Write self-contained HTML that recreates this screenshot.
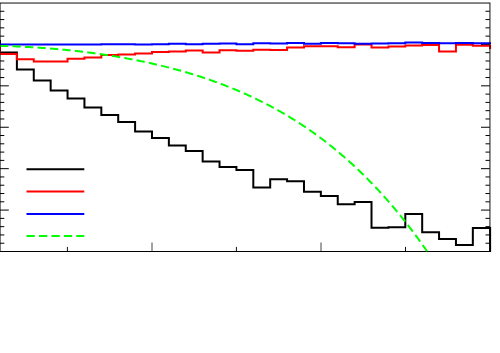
<!DOCTYPE html>
<html><head><meta charset="utf-8"><title>chart</title>
<style>
html,body{margin:0;padding:0;background:#fff;font-family:"Liberation Sans",sans-serif;}
svg{display:block}
</style></head><body>
<svg width="500" height="353" viewBox="0 0 500 353">
<rect width="500" height="353" fill="#fff"/>
<g stroke="#8a8a8a" stroke-width="1.6"><line x1="152" x2="152" y1="251.5" y2="242.5"/><line x1="321" x2="321" y1="251.5" y2="242.5"/></g>
<g stroke="#111" stroke-width="1"><line x1="67.4" x2="67.4" y1="251.5" y2="246.9"/><line x1="236.4" x2="236.4" y1="251.5" y2="246.9"/><line x1="405.5" x2="405.5" y1="251.5" y2="246.9"/></g>
<g stroke="#000" stroke-width="1"><line x1="0" x2="4.3" y1="243.22" y2="243.22"/><line x1="489.8" x2="485.5" y1="243.22" y2="243.22"/><line x1="0" x2="4.3" y1="234.93" y2="234.93"/><line x1="489.8" x2="485.5" y1="234.93" y2="234.93"/><line x1="0" x2="4.3" y1="226.65" y2="226.65"/><line x1="489.8" x2="485.5" y1="226.65" y2="226.65"/><line x1="0" x2="4.3" y1="218.37" y2="218.37"/><line x1="489.8" x2="485.5" y1="218.37" y2="218.37"/><line x1="0" x2="8.8" y1="210.08" y2="210.08"/><line x1="489.8" x2="481.0" y1="210.08" y2="210.08"/><line x1="0" x2="4.3" y1="201.80" y2="201.80"/><line x1="489.8" x2="485.5" y1="201.80" y2="201.80"/><line x1="0" x2="4.3" y1="193.52" y2="193.52"/><line x1="489.8" x2="485.5" y1="193.52" y2="193.52"/><line x1="0" x2="4.3" y1="185.23" y2="185.23"/><line x1="489.8" x2="485.5" y1="185.23" y2="185.23"/><line x1="0" x2="4.3" y1="176.95" y2="176.95"/><line x1="489.8" x2="485.5" y1="176.95" y2="176.95"/><line x1="0" x2="8.8" y1="168.67" y2="168.67"/><line x1="489.8" x2="481.0" y1="168.67" y2="168.67"/><line x1="0" x2="4.3" y1="160.38" y2="160.38"/><line x1="489.8" x2="485.5" y1="160.38" y2="160.38"/><line x1="0" x2="4.3" y1="152.10" y2="152.10"/><line x1="489.8" x2="485.5" y1="152.10" y2="152.10"/><line x1="0" x2="4.3" y1="143.82" y2="143.82"/><line x1="489.8" x2="485.5" y1="143.82" y2="143.82"/><line x1="0" x2="4.3" y1="135.53" y2="135.53"/><line x1="489.8" x2="485.5" y1="135.53" y2="135.53"/><line x1="0" x2="8.8" y1="127.25" y2="127.25"/><line x1="489.8" x2="481.0" y1="127.25" y2="127.25"/><line x1="0" x2="4.3" y1="118.97" y2="118.97"/><line x1="489.8" x2="485.5" y1="118.97" y2="118.97"/><line x1="0" x2="4.3" y1="110.68" y2="110.68"/><line x1="489.8" x2="485.5" y1="110.68" y2="110.68"/><line x1="0" x2="4.3" y1="102.40" y2="102.40"/><line x1="489.8" x2="485.5" y1="102.40" y2="102.40"/><line x1="0" x2="4.3" y1="94.12" y2="94.12"/><line x1="489.8" x2="485.5" y1="94.12" y2="94.12"/><line x1="0" x2="8.8" y1="85.83" y2="85.83"/><line x1="489.8" x2="481.0" y1="85.83" y2="85.83"/><line x1="0" x2="4.3" y1="77.55" y2="77.55"/><line x1="489.8" x2="485.5" y1="77.55" y2="77.55"/><line x1="0" x2="4.3" y1="69.27" y2="69.27"/><line x1="489.8" x2="485.5" y1="69.27" y2="69.27"/><line x1="0" x2="4.3" y1="60.98" y2="60.98"/><line x1="489.8" x2="485.5" y1="60.98" y2="60.98"/><line x1="0" x2="4.3" y1="52.70" y2="52.70"/><line x1="489.8" x2="485.5" y1="52.70" y2="52.70"/><line x1="0" x2="8.8" y1="44.42" y2="44.42"/><line x1="489.8" x2="481.0" y1="44.42" y2="44.42"/><line x1="0" x2="4.3" y1="36.13" y2="36.13"/><line x1="489.8" x2="485.5" y1="36.13" y2="36.13"/><line x1="0" x2="4.3" y1="27.85" y2="27.85"/><line x1="489.8" x2="485.5" y1="27.85" y2="27.85"/><line x1="0" x2="4.3" y1="19.57" y2="19.57"/><line x1="489.8" x2="485.5" y1="19.57" y2="19.57"/><line x1="0" x2="4.3" y1="11.28" y2="11.28"/><line x1="489.8" x2="485.5" y1="11.28" y2="11.28"/></g>
<line x1="0" x2="491.0" y1="251.5" y2="251.5" stroke="#000" stroke-width="1.2"/>
<!-- data -->
<g fill="none" stroke-width="2" stroke-linejoin="miter">
<path d="M0 40 L0.00 52.5 L16.89 52.5 L16.89 69.4 L33.77 69.4 L33.77 80.6 L50.66 80.6 L50.66 90.6 L67.55 90.6 L67.55 98.6 L84.44 98.6 L84.44 107.6 L101.32 107.6 L101.32 115 L118.21 115 L118.21 121.9 L135.10 121.9 L135.10 131.4 L151.98 131.4 L151.98 138 L168.87 138 L168.87 145.4 L185.76 145.4 L185.76 150.9 L202.64 150.9 L202.64 161.6 L219.53 161.6 L219.53 167 L236.42 167 L236.42 170 L253.31 170 L253.31 187.5 L270.19 187.5 L270.19 179.2 L287.08 179.2 L287.08 181.35 L303.97 181.35 L303.97 191.7 L320.85 191.7 L320.85 196.0 L337.74 196.0 L337.74 204.2 L354.63 204.2 L354.63 202 L371.51 202 L371.51 227.7 L388.40 227.7 L388.40 227.2 L405.29 227.2 L405.29 213.9 L422.18 213.9 L422.18 232.3 L439.06 232.3 L439.06 238.9 L455.95 238.9 L455.95 244.9 L472.84 244.9 L472.84 228.1 L490.10 228.1 L490.1 252.1" stroke="#000"/>
<path d="M0 47 L0.00 54 L16.89 54 L16.89 59.3 L33.77 59.3 L33.77 61.6 L50.66 61.6 L50.66 61.6 L67.55 61.6 L67.55 58.8 L84.44 58.8 L84.44 57.5 L101.32 57.5 L101.32 55 L118.21 55 L118.21 54.6 L135.10 54.6 L135.10 53.6 L151.98 53.6 L151.98 52 L168.87 52 L168.87 51.6 L185.76 51.6 L185.76 50.6 L202.64 50.6 L202.64 52.6 L219.53 52.6 L219.53 50.2 L236.42 50.2 L236.42 50.8 L253.31 50.8 L253.31 49.8 L270.19 49.8 L270.19 50 L287.08 50 L287.08 47.6 L303.97 47.6 L303.97 46.3 L320.85 46.3 L320.85 46.2 L337.74 46.2 L337.74 47.3 L354.63 47.3 L354.63 44.6 L371.51 44.6 L371.51 47.6 L388.40 47.6 L388.40 46.6 L405.29 46.6 L405.29 45.4 L422.18 45.4 L422.18 45 L439.06 45 L439.06 51.6 L455.95 51.6 L455.95 44.7 L472.84 44.7 L472.84 45.85 L490.10 45.85 L490.1 49" stroke="#ff0000"/>
<path d="M0 44.6 L0.00 44.6 L16.89 44.6 L16.89 44.6 L33.77 44.6 L33.77 44.6 L50.66 44.6 L50.66 44.5 L67.55 44.5 L67.55 44.5 L84.44 44.5 L84.44 44.4 L101.32 44.4 L101.32 44.3 L118.21 44.3 L118.21 44.3 L135.10 44.3 L135.10 44.4 L151.98 44.4 L151.98 44.3 L168.87 44.3 L168.87 43.8 L185.76 43.8 L185.76 44.2 L202.64 44.2 L202.64 43.8 L219.53 43.8 L219.53 43.5 L236.42 43.5 L236.42 44.2 L253.31 44.2 L253.31 43.2 L270.19 43.2 L270.19 43.6 L287.08 43.6 L287.08 43 L303.97 43 L303.97 43.7 L320.85 43.7 L320.85 43.1 L337.74 43.1 L337.74 43.3 L354.63 43.3 L354.63 43.7 L371.51 43.7 L371.51 43.45 L388.40 43.45 L388.40 43.15 L405.29 43.15 L405.29 42.6 L422.18 42.6 L422.18 43 L439.06 43 L439.06 43.2 L455.95 43.2 L455.95 42.95 L472.84 42.95 L472.84 43.15 L490.10 43.15 L490.1 43.15 L491 43.15" stroke="#0000ff"/>
<path d="M0.0 45.89 L1.0 45.91 L2.0 45.93 L3.0 45.96 L4.0 45.99 L5.0 46.01 L6.0 46.04 L7.0 46.07 L8.0 46.11 L9.0 46.14 L10.0 46.17 L11.0 46.21 L12.0 46.25 L13.0 46.28 L14.0 46.32 L15.0 46.36 L16.0 46.40 L17.0 46.44 L18.0 46.49 L19.0 46.53 L20.0 46.58 L21.0 46.63 L22.0 46.67 L23.0 46.72 L24.0 46.77 L25.0 46.82 L26.0 46.88 L27.0 46.93 L28.0 46.99 L29.0 47.04 L30.0 47.10 L31.0 47.16 L32.0 47.22 L33.0 47.28 L34.0 47.34 L35.0 47.40 L36.0 47.47 L37.0 47.53 L38.0 47.60 L39.0 47.67 L40.0 47.74 L41.0 47.81 L42.0 47.88 L43.0 47.95 L44.0 48.02 L45.0 48.10 L46.0 48.17 L47.0 48.25 L48.0 48.33 L49.0 48.41 L50.0 48.49 L51.0 48.57 L52.0 48.65 L53.0 48.74 L54.0 48.82 L55.0 48.91 L56.0 49.00 L57.0 49.08 L58.0 49.17 L59.0 49.27 L60.0 49.36 L61.0 49.45 L62.0 49.55 L63.0 49.64 L64.0 49.74 L65.0 49.84 L66.0 49.94 L67.0 50.04 L68.0 50.14 L69.0 50.24 L70.0 50.35 L71.0 50.45 L72.0 50.56 L73.0 50.67 L74.0 50.78 L75.0 50.89 L76.0 51.00 L77.0 51.11 L78.0 51.23 L79.0 51.34 L80.0 51.46 L81.0 51.58 L82.0 51.70 L83.0 51.82 L84.0 51.94 L85.0 52.06 L86.0 52.19 L87.0 52.31 L88.0 52.44 L89.0 52.57 L90.0 52.70 L91.0 52.83 L92.0 52.96 L93.0 53.09 L94.0 53.23 L95.0 53.36 L96.0 53.50 L97.0 53.64 L98.0 53.78 L99.0 53.92 L100.0 54.06 L101.0 54.21 L102.0 54.35 L103.0 54.50 L104.0 54.65 L105.0 54.80 L106.0 54.95 L107.0 55.10 L108.0 55.26 L109.0 55.41 L110.0 55.57 L111.0 55.73 L112.0 55.89 L113.0 56.05 L114.0 56.21 L115.0 56.37 L116.0 56.54 L117.0 56.71 L118.0 56.87 L119.0 57.04 L120.0 57.22 L121.0 57.39 L122.0 57.56 L123.0 57.74 L124.0 57.92 L125.0 58.09 L126.0 58.28 L127.0 58.46 L128.0 58.64 L129.0 58.83 L130.0 59.01 L131.0 59.20 L132.0 59.39 L133.0 59.58 L134.0 59.77 L135.0 59.97 L136.0 60.17 L137.0 60.36 L138.0 60.56 L139.0 60.76 L140.0 60.97 L141.0 61.17 L142.0 61.38 L143.0 61.58 L144.0 61.79 L145.0 62.01 L146.0 62.22 L147.0 62.43 L148.0 62.65 L149.0 62.87 L150.0 63.09 L151.0 63.31 L152.0 63.53 L153.0 63.76 L154.0 63.98 L155.0 64.21 L156.0 64.44 L157.0 64.68 L158.0 64.91 L159.0 65.15 L160.0 65.38 L161.0 65.62 L162.0 65.87 L163.0 66.11 L164.0 66.36 L165.0 66.60 L166.0 66.85 L167.0 67.10 L168.0 67.36 L169.0 67.61 L170.0 67.87 L171.0 68.13 L172.0 68.39 L173.0 68.65 L174.0 68.92 L175.0 69.18 L176.0 69.45 L177.0 69.73 L178.0 70.00 L179.0 70.27 L180.0 70.55 L181.0 70.83 L182.0 71.11 L183.0 71.40 L184.0 71.68 L185.0 71.97 L186.0 72.26 L187.0 72.55 L188.0 72.85 L189.0 73.15 L190.0 73.45 L191.0 73.75 L192.0 74.05 L193.0 74.36 L194.0 74.67 L195.0 74.98 L196.0 75.29 L197.0 75.60 L198.0 75.92 L199.0 76.24 L200.0 76.56 L201.0 76.89 L202.0 77.21 L203.0 77.54 L204.0 77.88 L205.0 78.21 L206.0 78.55 L207.0 78.89 L208.0 79.23 L209.0 79.57 L210.0 79.92 L211.0 80.27 L212.0 80.62 L213.0 80.97 L214.0 81.33 L215.0 81.69 L216.0 82.05 L217.0 82.42 L218.0 82.78 L219.0 83.15 L220.0 83.53 L221.0 83.90 L222.0 84.28 L223.0 84.66 L224.0 85.05 L225.0 85.43 L226.0 85.82 L227.0 86.21 L228.0 86.61 L229.0 87.00 L230.0 87.40 L231.0 87.81 L232.0 88.21 L233.0 88.62 L234.0 89.03 L235.0 89.45 L236.0 89.87 L237.0 90.29 L238.0 90.71 L239.0 91.14 L240.0 91.57 L241.0 92.00 L242.0 92.44 L243.0 92.87 L244.0 93.32 L245.0 93.76 L246.0 94.21 L247.0 94.66 L248.0 95.11 L249.0 95.57 L250.0 96.03 L251.0 96.50 L252.0 96.96 L253.0 97.43 L254.0 97.91 L255.0 98.38 L256.0 98.86 L257.0 99.35 L258.0 99.83 L259.0 100.32 L260.0 100.82 L261.0 101.31 L262.0 101.82 L263.0 102.32 L264.0 102.83 L265.0 103.34 L266.0 103.85 L267.0 104.37 L268.0 104.89 L269.0 105.42 L270.0 105.94 L271.0 106.48 L272.0 107.01 L273.0 107.55 L274.0 108.09 L275.0 108.64 L276.0 109.19 L277.0 109.75 L278.0 110.30 L279.0 110.87 L280.0 111.43 L281.0 112.00 L282.0 112.57 L283.0 113.15 L284.0 113.73 L285.0 114.32 L286.0 114.91 L287.0 115.50 L288.0 116.10 L289.0 116.70 L290.0 117.30 L291.0 117.91 L292.0 118.53 L293.0 119.15 L294.0 119.77 L295.0 120.39 L296.0 121.03 L297.0 121.66 L298.0 122.30 L299.0 122.94 L300.0 123.59 L301.0 124.24 L302.0 124.90 L303.0 125.56 L304.0 126.23 L305.0 126.90 L306.0 127.57 L307.0 128.25 L308.0 128.94 L309.0 129.63 L310.0 130.32 L311.0 131.02 L312.0 131.72 L313.0 132.43 L314.0 133.14 L315.0 133.86 L316.0 134.58 L317.0 135.31 L318.0 136.04 L319.0 136.78 L320.0 137.52 L321.0 138.27 L322.0 139.02 L323.0 139.78 L324.0 140.54 L325.0 141.31 L326.0 142.08 L327.0 142.85 L328.0 143.64 L329.0 144.42 L330.0 145.22 L331.0 146.01 L332.0 146.82 L333.0 147.63 L334.0 148.44 L335.0 149.26 L336.0 150.08 L337.0 150.91 L338.0 151.75 L339.0 152.59 L340.0 153.43 L341.0 154.28 L342.0 155.14 L343.0 156.00 L344.0 156.87 L345.0 157.74 L346.0 158.62 L347.0 159.50 L348.0 160.39 L349.0 161.29 L350.0 162.19 L351.0 163.10 L352.0 164.01 L353.0 164.93 L354.0 165.85 L355.0 166.78 L356.0 167.72 L357.0 168.66 L358.0 169.61 L359.0 170.56 L360.0 171.52 L361.0 172.49 L362.0 173.46 L363.0 174.43 L364.0 175.42 L365.0 176.41 L366.0 177.40 L367.0 178.41 L368.0 179.42 L369.0 180.43 L370.0 181.45 L371.0 182.48 L372.0 183.51 L373.0 184.55 L374.0 185.60 L375.0 186.65 L376.0 187.71 L377.0 188.78 L378.0 189.85 L379.0 190.93 L380.0 192.02 L381.0 193.11 L382.0 194.21 L383.0 195.32 L384.0 196.43 L385.0 197.55 L386.0 198.67 L387.0 199.81 L388.0 200.95 L389.0 202.10 L390.0 203.25 L391.0 204.41 L392.0 205.58 L393.0 206.75 L394.0 207.94 L395.0 209.13 L396.0 210.32 L397.0 211.53 L398.0 212.74 L399.0 213.95 L400.0 215.18 L401.0 216.41 L402.0 217.65 L403.0 218.90 L404.0 220.16 L405.0 221.42 L406.0 222.69 L407.0 223.97 L408.0 225.25 L409.0 226.54 L410.0 227.84 L411.0 229.15 L412.0 230.47 L413.0 231.79 L414.0 233.12 L415.0 234.46 L416.0 235.81 L417.0 237.16 L418.0 238.53 L419.0 239.90 L420.0 241.27 L421.0 242.66 L422.0 244.06 L423.0 245.46 L424.0 246.87 L425.0 248.29 L426.0 249.72 L427.0 251.15" stroke="#00ff00" stroke-dasharray="8.3 4.2"/>
</g>
<!-- frame (semi-transparent, over data) -->
<g shape-rendering="crispEdges" fill="#000">
<rect x="0" y="2" width="490" height="1" fill-opacity="0.45"/>
<rect x="0" y="3" width="490" height="1" fill-opacity="0.51"/>
<rect x="490" y="2" width="1" height="1" fill-opacity="0.23"/>
<rect x="490" y="3" width="1" height="1" fill-opacity="0.40"/>
<rect x="0" y="3" width="1" height="248" fill-opacity="0.53"/>
<rect x="489" y="3" width="1" height="248" fill-opacity="0.52"/>
<rect x="490" y="4" width="1" height="247" fill-opacity="0.41"/>
</g>
<!-- legend -->
<g fill="none" stroke-width="2">
<line x1="26.5" x2="84.3" y1="169.3" y2="169.3" stroke="#000"/>
<line x1="26.5" x2="84.3" y1="191.4" y2="191.4" stroke="#ff0000"/>
<line x1="26.5" x2="84.3" y1="213.9" y2="213.9" stroke="#0000ff"/>
<line x1="26.5" x2="84.3" y1="236" y2="236" stroke="#00ff00" stroke-dasharray="8.3 4.15"/>
</g>
</svg>
</body></html>
